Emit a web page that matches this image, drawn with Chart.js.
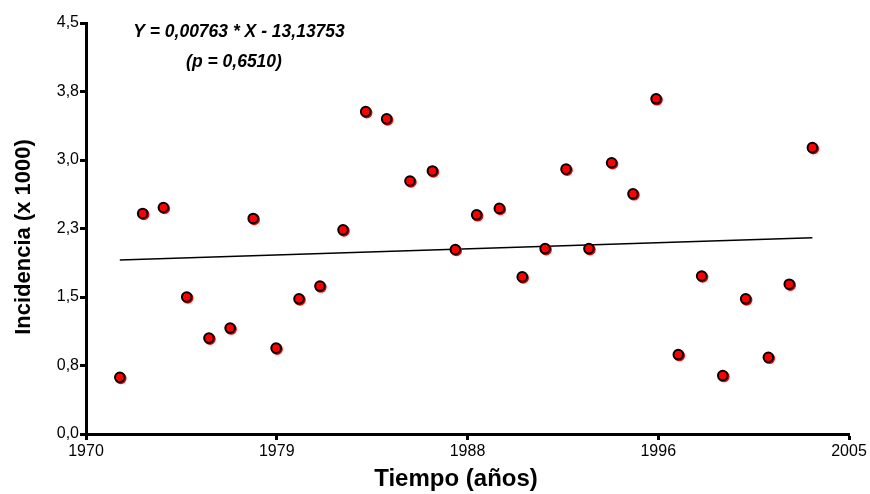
<!DOCTYPE html>
<html>
<head>
<meta charset="utf-8">
<title>Incidencia</title>
<script src="https://cdn.jsdelivr.net/npm/chart.js@4.4.1/dist/chart.umd.min.js"></script>
<style>
  html, body { margin: 0; padding: 0; background: #fff; }
  #wrap { width: 870px; height: 494px; position: relative; }
</style>
</head>
<body>
<div id="wrap"><canvas id="graph"></canvas></div>
<script>
// años (posición de cada punto) e incidencia (x 1000)
const years = [1971.55, 1972.60, 1973.55, 1974.62, 1975.64, 1976.61, 1977.67, 1978.72,
               1979.77, 1980.73, 1981.79, 1982.83, 1983.79, 1984.86, 1985.89, 1986.94,
               1987.92, 1988.96, 1990.01, 1991.06, 1992.02, 1993.07, 1994.11, 1995.09,
               1996.15, 1997.17, 1998.24, 1999.21, 2000.26, 2001.30, 2002.26, 2003.32];
const incidence = [0.62, 2.415, 2.48, 1.50, 1.05, 1.16, 2.36, 0.94,
                   1.48, 1.62, 2.235, 3.53, 3.45, 2.77, 2.88, 2.02,
                   2.40, 2.47, 1.72, 2.03, 2.90, 2.03, 2.97, 2.63,
                   3.67, 0.87, 1.73, 0.64, 1.48, 0.84, 1.64, 3.135];

// recta de regresión
const slope = 0.00763;
const intercept = -13.13753;

const xTickLabels = ['1970', '1979', '1988', '1996', '2005'];
const yTickLabels = ['0,0', '0,8', '1,5', '2,3', '3,0', '3,8', '4,5'];

const xTitle = 'Tiempo (años)';
const yTitle = 'Incidencia (x 1000)';
const equation = 'Y = 0,00763 * X - 13,13753';
const pValue = '(p = 0,6510)';

const FONT = "'Liberation Sans', Arial, Helvetica, sans-serif";

const points = years.map((x, i) => ({ x: x, y: incidence[i] }));
const x0 = years[0], x1 = years[years.length - 1];
const trend = [
  { x: x0, y: slope * x0 + intercept },
  { x: x1, y: slope * x1 + intercept }
];

// sombra roja de los puntos
const pointShadow = {
  id: 'pointShadow',
  beforeDatasetDraw(chart, args) {
    if (args.index !== 0) return;
    const ctx = chart.ctx;
    ctx.save();
    ctx.shadowColor = '#ff0000';
    ctx.shadowOffsetX = 1;
    ctx.shadowOffsetY = 1;
    ctx.shadowBlur = 0;
  },
  afterDatasetDraw(chart, args) {
    if (args.index !== 0) return;
    chart.ctx.restore();
  }
};

// títulos de ejes y ecuación
const texts = {
  id: 'texts',
  afterDraw(chart) {
    const ctx = chart.ctx;
    ctx.save();
    ctx.fillStyle = '#000';
    ctx.textAlign = 'center';
    ctx.textBaseline = 'middle';

    ctx.font = 'italic bold 17.5px ' + FONT;
    ctx.fillText(equation, 239, 32);
    ctx.fillText(pValue, 234, 62);

    ctx.font = 'bold 24px ' + FONT;
    ctx.fillText(xTitle, 456, 479);

    ctx.translate(24, 237);
    ctx.rotate(-Math.PI / 2);
    ctx.font = 'bold 22px ' + FONT;
    ctx.fillText(yTitle, 0, 0);
    ctx.restore();
  }
};

const tickFont = { family: FONT, size: 16 };

new Chart(document.getElementById('graph'), {
  type: 'scatter',
  data: {
    datasets: [
      {
        data: points,
        backgroundColor: '#ff0000',
        borderColor: '#000',
        borderWidth: 2,
        pointRadius: 4.8,
        pointHoverRadius: 4.8
      },
      {
        type: 'line',
        data: trend,
        borderColor: '#000',
        borderWidth: 1.5,
        pointRadius: 0,
        fill: false,
        tension: 0
      }
    ]
  },
  options: {
    responsive: true,
    maintainAspectRatio: false,
    animation: false,
    events: [],
    layout: { padding: { top: 23, right: 21, left: 0, bottom: 0 } },
    plugins: {
      legend: { display: false },
      tooltip: { enabled: false }
    },
    scales: {
      x: {
        type: 'linear',
        min: 1970,
        max: 2005,
        afterFit(scale) { scale.height = 60; },
        border: { display: true, color: '#000', width: 3 },
        grid: { drawOnChartArea: false, color: '#000', tickLength: 6, tickWidth: 3 },
        ticks: {
          stepSize: 8.75,
          color: '#000',
          font: tickFont,
          padding: 2,
          maxRotation: 0,
          callback: (v, i) => xTickLabels[i]
        }
      },
      y: {
        min: 0,
        max: 4.5,
        afterFit(scale) { scale.width = 86; },
        border: { display: true, color: '#000', width: 3 },
        grid: { drawOnChartArea: false, color: '#000', tickLength: 6, tickWidth: 3 },
        ticks: {
          stepSize: 0.75,
          color: '#000',
          font: tickFont,
          padding: 1,
          callback: (v, i) => yTickLabels[i]
        }
      }
    }
  },
  plugins: [pointShadow, texts]
});
</script>
</body>
</html>
